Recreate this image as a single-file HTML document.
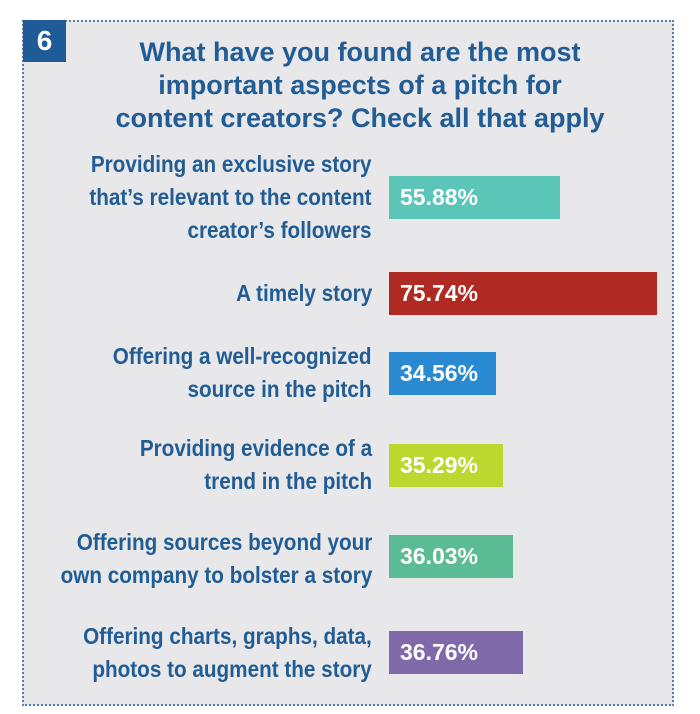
<!DOCTYPE html>
<html><head><style>
body{margin:0;width:700px;height:714px;background:#fff;position:relative;overflow:hidden;font-family:"Liberation Sans",sans-serif;}
.panel{position:absolute;left:22px;top:20px;width:652px;height:686px;background:#e8e8ea;border:2px dotted #5a7fa8;box-sizing:border-box;}
.num{position:absolute;left:23px;top:20px;width:43px;height:42px;background:#1f5b96;color:#fff;font-weight:bold;font-size:28px;text-align:center;line-height:42px;}
.title{position:absolute;left:75px;width:570px;text-align:center;color:#215c94;font-weight:bold;font-size:27px;line-height:33px;top:36px;}
.lab{position:absolute;right:328px;text-align:right;color:#215c94;font-weight:bold;font-size:23px;line-height:33px;transform:scaleX(0.9);transform-origin:right center;white-space:nowrap;}
.bar{position:absolute;left:389px;height:43px;color:#fff;font-weight:bold;font-size:23px;line-height:43px;padding-left:11px;box-sizing:border-box;}
</style></head><body>
<div class="panel"></div>
<div class="num">6</div>
<div class="title">What have you found are the most<br>important aspects of a pitch for<br>content creators? Check all that apply</div>
<div class="lab" style="top:148px">Providing an exclusive story<br>that’s relevant to the content<br>creator’s followers</div>
<div class="bar" style="top:176px;width:171px;background:#5bc5b7">55.88%</div>
<div class="lab" style="top:277px">A timely story</div>
<div class="bar" style="top:272px;width:268px;background:#b02a24">75.74%</div>
<div class="lab" style="top:340px">Offering a well-recognized<br>source in the pitch</div>
<div class="bar" style="top:352px;width:107px;background:#2a8ad1">34.56%</div>
<div class="lab" style="top:432px">Providing evidence of a<br>trend in the pitch</div>
<div class="bar" style="top:444px;width:114px;background:#bcd72f">35.29%</div>
<div class="lab" style="top:526px">Offering sources beyond your<br>own company to bolster a story</div>
<div class="bar" style="top:535px;width:124px;background:#5bbb94">36.03%</div>
<div class="lab" style="top:620px">Offering charts, graphs, data,<br>photos to augment the story</div>
<div class="bar" style="top:631px;width:134px;background:#8069a8">36.76%</div>
</body></html>
